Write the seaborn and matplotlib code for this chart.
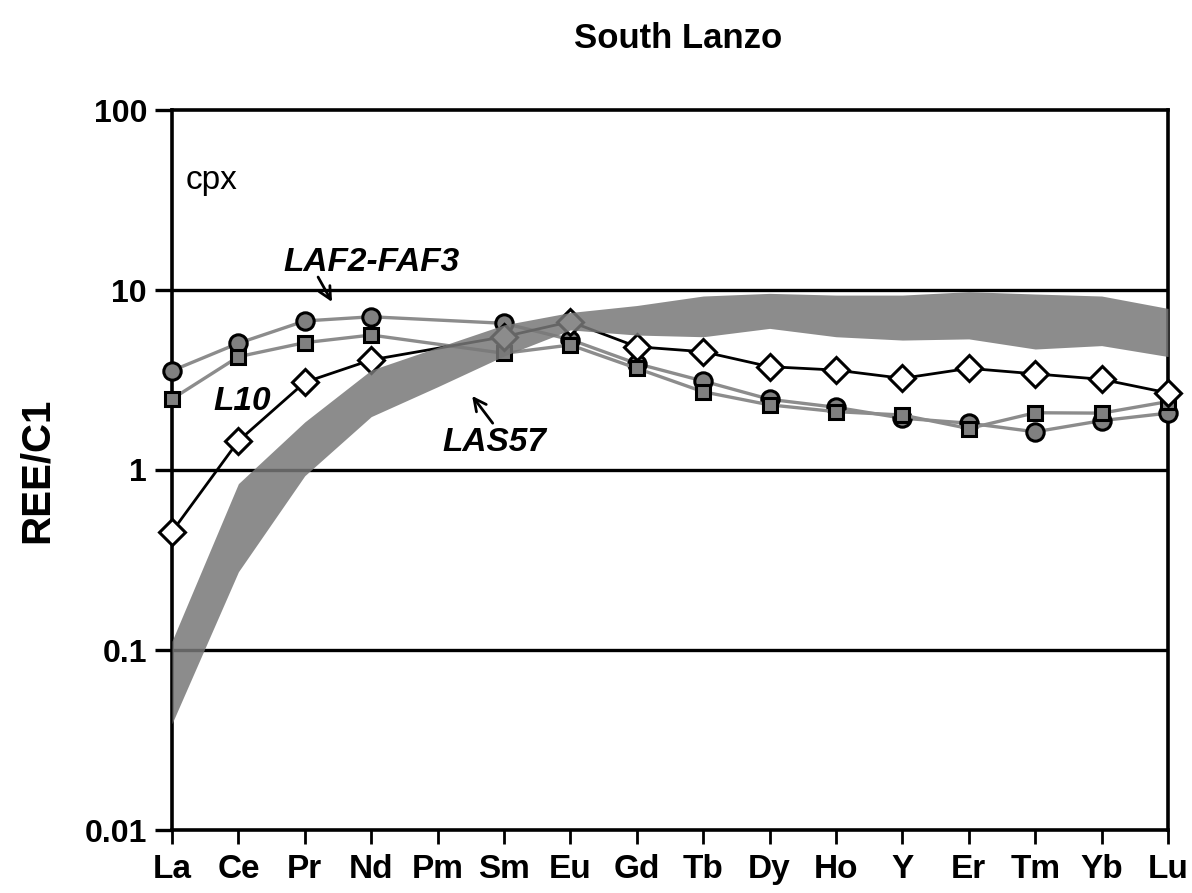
import numpy as np
import pandas as pd
import matplotlib
matplotlib.use("Agg")
import matplotlib.pyplot as plt
import seaborn as sns

# Chondrite-normalised REE patterns of clinopyroxene, South Lanzo
elements = ["La", "Ce", "Pr", "Nd", "Pm", "Sm", "Eu", "Gd", "Tb", "Dy",
            "Ho", "Y", "Er", "Tm", "Yb", "Lu"]
nan = np.nan
laf2 = [3.56, 5.06, 6.73, 7.10, nan, 6.53, 5.30, 3.90, 3.12, 2.47,
        2.23, 1.94, 1.82, 1.63, 1.88, 2.07]
faf3 = [2.48, 4.26, 5.10, 5.62, nan, 4.45, 4.95, 3.67, 2.72, 2.30,
        2.11, 2.02, 1.70, 2.08, 2.07, 2.40]
l10 = [0.454, 1.45, 3.07, 4.09, nan, 5.50, 6.67, 4.84, 4.54, 3.75,
       3.59, 3.23, 3.67, 3.42, 3.19, 2.68]
las57_high = [0.112, 0.84, 1.85, 3.59, 4.8, 6.4, 7.5, 8.2, 9.26, 9.58,
              9.37, 9.37, 9.79, 9.5, 9.26, 7.9]
las57_low = [0.039, 0.272, 0.93, 1.98, 2.9, 4.3, 6.0, 5.62, 5.5, 6.12,
             5.5, 5.27, 5.35, 4.7, 4.91, 4.27]
y_ticks = [0.01, 0.1, 1, 10, 100]
y_tick_labels = ["0.01", "0.1", "1", "10", "100"]

sns.set_theme(style="white")
plt.rcParams["font.family"] = ["Liberation Sans", "DejaVu Sans"]
plt.rcParams.update({"text.color": "black", "axes.labelcolor": "black",
                     "xtick.color": "black", "ytick.color": "black"})

pos = np.arange(len(elements))
df = pd.DataFrame({"pos": pos, "LAF2": laf2, "FAF3": faf3, "L10": l10})

fig = plt.figure(figsize=(11.92, 8.93), dpi=100)
ax = fig.add_axes([172 / 1192, 1 - 830 / 893, 996 / 1192, 720 / 893])
ax.set_yscale("log")
ax.set_ylim(0.01, 100)
ax.set_xlim(0, len(elements) - 1)

# horizontal reference lines at each decade
for v in [0.1, 1, 10]:
    ax.axhline(v, color="black", lw=2.4, zorder=1)

gray_line = "#8c8c8c"
marker_face = "#808080"

sub = df.dropna(subset=["LAF2"])
sns.lineplot(data=sub, x="pos", y="LAF2", ax=ax, color=gray_line, lw=2.4,
             marker="o", markersize=12.5, markerfacecolor=marker_face,
             markeredgecolor="black", markeredgewidth=2.2, estimator=None,
             sort=False, zorder=3, clip_on=False)
sub = df.dropna(subset=["FAF3"])
sns.lineplot(data=sub, x="pos", y="FAF3", ax=ax, color=gray_line, lw=2.4,
             marker="s", markersize=10.5, markerfacecolor=marker_face,
             markeredgecolor="black", markeredgewidth=2.2, estimator=None,
             sort=False, zorder=4, clip_on=False)
sub = df.dropna(subset=["L10"])
sns.lineplot(data=sub, x="pos", y="L10", ax=ax, color="black", lw=2.0,
             marker="D", markersize=13, markerfacecolor="white",
             markeredgecolor="black", markeredgewidth=2.2, estimator=None,
             sort=False, zorder=5, clip_on=False)

# LAS57 field
ax.fill_between(pos, las57_low, las57_high, color="#787878", alpha=0.85,
                lw=0, zorder=6)

ax.set_xticks(pos)
ax.set_xticklabels(elements, fontsize=24, fontweight="bold")
ax.set_yticks(y_ticks)
ax.set_yticklabels(y_tick_labels, fontsize=23, fontweight="bold")
ax.yaxis.set_minor_locator(matplotlib.ticker.NullLocator())
ax.tick_params(axis="y", which="major", direction="out", length=12,
               width=2.4, color="black", pad=6, left=True)
ax.tick_params(axis="x", which="major", direction="out", length=10,
               width=2.0, color="black", pad=7, bottom=True)
for s in ax.spines.values():
    s.set_color("black")
    s.set_linewidth(2.6)
ax.set_xlabel("")
ax.set_ylabel("REE/C1", fontsize=29, fontweight="bold")
ax.yaxis.set_label_coords(-(172 - 56) / 996, 0.5)

ax.text(0.2, 40.8, "cpx", fontsize=24, ha="left", va="center")
ax.text(3.01, 14.3, "LAF2-FAF3", fontsize=24, fontweight="bold",
        style="italic", ha="center", va="center")
ax.text(1.06, 2.39, "L10", fontsize=24, fontweight="bold",
        style="italic", ha="center", va="center")
ax.text(4.86, 1.43, "LAS57", fontsize=24, fontweight="bold",
        style="italic", ha="center", va="center")
arrow = dict(arrowstyle="->", color="black", lw=2.0, mutation_scale=22,
             shrinkA=0, shrinkB=0)
ax.annotate("", xy=(2.41, 8.58), xytext=(2.2, 11.8), arrowprops=arrow)
ax.annotate("", xy=(4.52, 2.58), xytext=(4.83, 1.82), arrowprops=arrow)

fig.text(678 / 1192, 1 - 38 / 893, "South Lanzo", fontsize=25,
         fontweight="bold", ha="center", va="center")

fig.savefig("out.png", dpi=100, facecolor="white")
